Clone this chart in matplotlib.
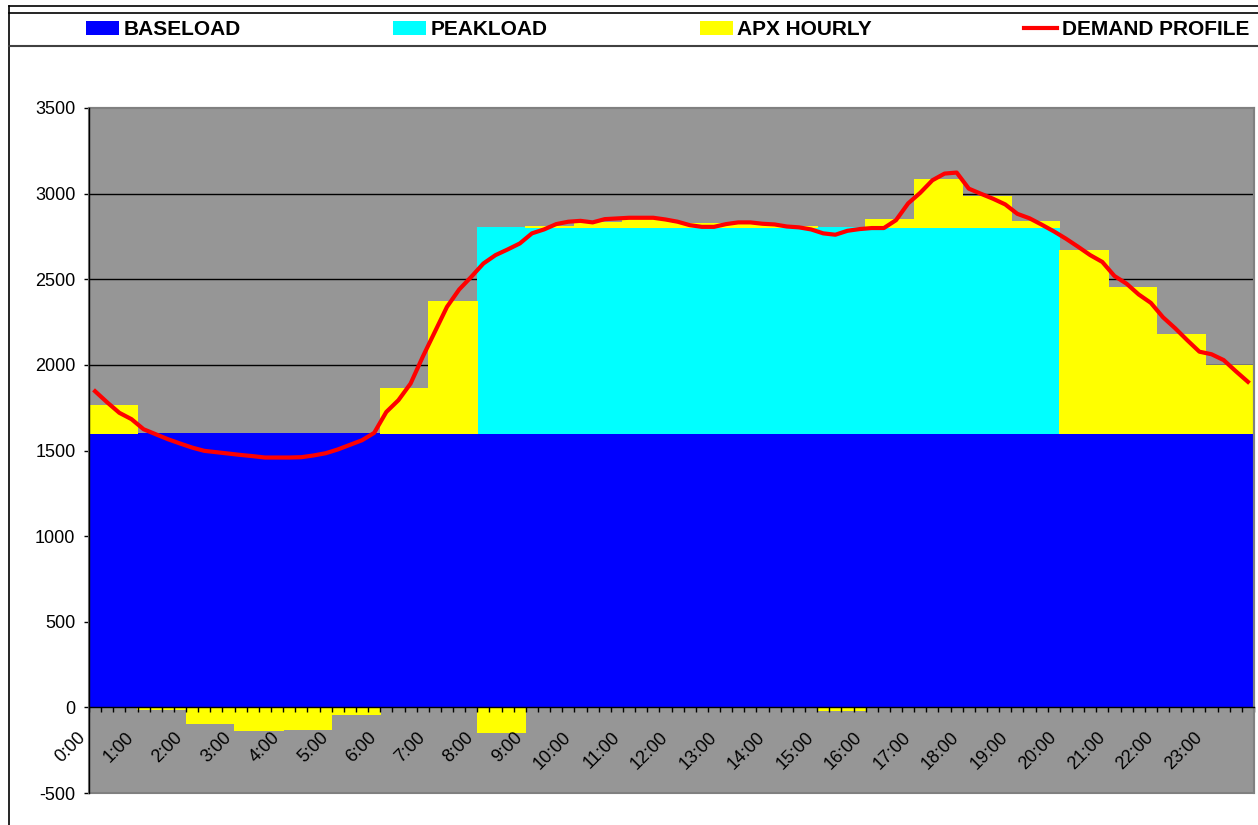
import matplotlib
matplotlib.use("Agg")
import matplotlib.pyplot as plt
from matplotlib.lines import Line2D
import numpy as np

plt.rcParams["axes.unicode_minus"] = False

# ---------------- data ----------------
hour_labels = [f"{h}:00" for h in range(24)]

baseload = [1600] * 24
peakload = [0] * 8 + [1200] * 12 + [0] * 4
apx_hourly = [160, -15, -95, -135, -130, -43, 260, 770,
              -145, 8, 33, 50, 25, 20, 10, -20,
              50, 285, 185, 35, 1070, 850, 580, 395]

# quarter-hour demand profile (96 points)
demand_profile = [
    1846, 1781, 1720, 1683, 1624, 1595, 1566, 1541,
    1517, 1498, 1490, 1482, 1474, 1467, 1459, 1459,
    1459, 1461, 1471, 1484, 1506, 1533, 1560, 1603,
    1725, 1794, 1891, 2047, 2193, 2339, 2440, 2514,
    2592, 2641, 2674, 2709, 2768, 2791, 2822, 2836,
    2841, 2832, 2851, 2855, 2859, 2859, 2859, 2849,
    2836, 2816, 2806, 2806, 2822, 2832, 2832, 2824,
    2820, 2808, 2803, 2791, 2768, 2760, 2783, 2793,
    2799, 2799, 2845, 2943, 3005, 3078, 3117, 3123,
    3029, 2999, 2970, 2937, 2882, 2856, 2819, 2780,
    2737, 2690, 2641, 2601, 2519, 2474, 2411, 2362,
    2278, 2214, 2144, 2077, 2062, 2028, 1963, 1901,
]

# ---------------- figure ----------------
W, H = 1258, 825
fig = plt.figure(figsize=(W / 100, H / 100), dpi=100)
fig.patch.set_facecolor("white")

ax = fig.add_axes([89 / W, 1 - 793 / H, (1254 - 89) / W, (793 - 108) / H])
ax.set_facecolor("#969696")

slots_per_hour = 4
n_slots = 24 * slots_per_hour
hours = np.arange(24)
xpos = hours * slots_per_hour + slots_per_hour / 2

base = np.array(baseload, dtype=float)
peak = np.array(peakload, dtype=float)
apx = np.array(apx_hourly, dtype=float)
apx_bottom = np.where(apx >= 0, base + peak, 0.0)

bar_kw = dict(width=slots_per_hour, zorder=1, antialiased=False, snap=False,
              edgecolor="none", linewidth=0)
b1 = ax.bar(xpos, base, color="#0000FF", label="BASELOAD", **bar_kw)
b2 = ax.bar(xpos, peak, bottom=base, color="#00FFFF", label="PEAKLOAD", **bar_kw)
b3 = ax.bar(xpos, apx, bottom=apx_bottom, color="#FFFF00", label="APX HOURLY", **bar_kw)

xq = np.arange(n_slots) + 0.5
(l1,) = ax.plot(xq, demand_profile, color="#FF0000", lw=3, label="DEMAND PROFILE",
                zorder=4, solid_joinstyle="round")

ax.set_xlim(0, n_slots)
ax.set_ylim(-500, 3500)
yticks = np.arange(-500, 3501, 500)
ax.set_yticks(yticks)
for yv in yticks:
    if 0 < yv < 3500:
        ax.axhline(yv, color="black", lw=1, zorder=0.5)

# x axis at zero
ax.spines["bottom"].set_position(("data", 0))
ax.spines["bottom"].set_color("black")
ax.spines["bottom"].set_linewidth(1)
ax.spines["bottom"].set_zorder(3)
ax.spines["left"].set_color("black")
ax.spines["left"].set_linewidth(1)
ax.spines["left"].set_zorder(3)
for s in ("top", "right"):
    ax.spines[s].set_color("#808080")
    ax.spines[s].set_linewidth(1.5)
ax.add_patch(plt.Rectangle((0, 0), 1, 1, transform=ax.transAxes, fill=False,
                           edgecolor="#808080", lw=1.5, zorder=2.6, clip_on=False))

ax.set_xticks(np.arange(0, n_slots, slots_per_hour))
ax.set_xticks(np.arange(0, n_slots + 1, 1), minor=True)
ax.set_xticklabels(hour_labels)
ax.tick_params(axis="x", which="both", direction="out", length=3.8, width=1,
               color="black", pad=20.5)
ax.tick_params(axis="y", direction="out", length=3.8, width=1, color="black", pad=6)
for lab in ax.get_xticklabels():
    lab.set_rotation(45)
    lab.set_ha("right")
    lab.set_va("bottom")
    lab.set_rotation_mode("anchor")
    lab.set_fontfamily("Liberation Sans")
    lab.set_fontsize(13)
for lab in ax.get_yticklabels():
    lab.set_fontfamily("Liberation Sans")
    lab.set_fontsize(13)

# ---------------- frame & legend box ----------------
def fline(x0, y0, x1, y1, color="black", lw=1.2):
    fig.add_artist(Line2D([x0 / W, x1 / W], [1 - y0 / H, 1 - y1 / H],
                          transform=fig.transFigure, color=color, lw=lw))

fline(9, 6, 9, H)
fline(9, 6, W, 6)
fline(9, 13, W, 13)
fline(9, 46, W, 46, color="#404040", lw=1.5)

fig.legend(handles=[b1, b2, b3, l1],
           labels=["BASELOAD", "PEAKLOAD", "APX HOURLY", "DEMAND PROFILE"],
           loc="center", bbox_to_anchor=(86 / W, 1 - 45 / H, (1249 - 86) / W, 31 / H),
           ncol=4, mode="expand", frameon=False,
           prop=dict(family="Liberation Sans", weight="bold", size=15),
           handlelength=1.6, handleheight=0.65, handletextpad=0.2,
           borderpad=0, borderaxespad=0)

fig.savefig("out.png", dpi=100)
